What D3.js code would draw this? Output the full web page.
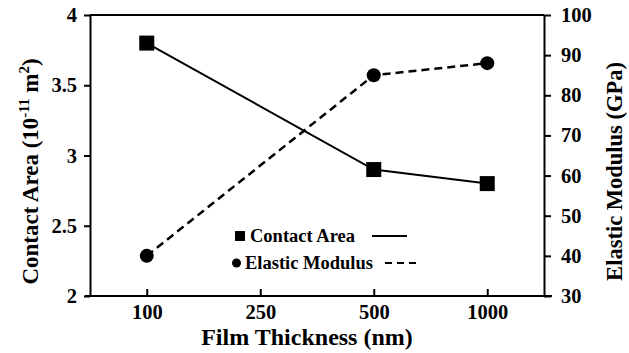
<!DOCTYPE html>
<html>
<head>
<meta charset="utf-8">
<script src="https://cdn.jsdelivr.net/npm/d3@7"></script>
<style>
  body { margin: 0; background: #fff; }
</style>
</head>
<body>
<div id="chart"></div>
<script>
// data
var thickness = ["100", "250", "500", "1000"];
var areaX = ["100", "500", "1000"];
var contactArea = [3.8, 2.9, 2.8];
var modulusX = ["100", "500", "1000"];
var elasticModulus = [40, 85, 88];
var leftTicks = [2, 2.5, 3, 3.5, 4];
var rightTicks = [30, 40, 50, 60, 70, 80, 90, 100];

var FONT = "'Liberation Serif', 'Times New Roman', Times, 'DejaVu Serif', serif";

var W = 629, H = 353;
var margin = { top: 15, right: 85, bottom: 57, left: 90 },
  width = W - margin.left - margin.right,
  height = H - margin.top - margin.bottom;

var svg = d3.select("#chart")
  .append("svg")
  .attr("width", W)
  .attr("height", H)
  .attr("font-family", FONT)
  .attr("font-weight", "bold")
  .append("g")
  .attr("transform", "translate(" + margin.left + "," + margin.top + ")");

var x = d3.scalePoint().domain(thickness).range([0, width]).padding(0.5);
var yL = d3.scaleLinear().domain([2, 4]).range([height, 0]);
var yR = d3.scaleLinear().domain([30, 100]).range([height, 0]);

// top frame line
svg.append("line")
  .attr("x1", 0).attr("x2", width)
  .attr("y1", 0).attr("y2", 0)
  .attr("stroke", "#000").attr("stroke-width", 2);

function styleAxis(g) {
  g.attr("font-family", FONT).attr("font-weight", "bold").attr("font-size", 20.5);
  g.select(".domain").attr("stroke-width", 2);
  g.selectAll(".tick line").attr("stroke-width", 2);
  g.selectAll(".tick text").attr("fill", "#000");
}

// x axis, ticks point inward
svg.append("g")
  .attr("transform", "translate(0," + height + ")")
  .call(d3.axisBottom(x).tickSize(-7).tickSizeOuter(0).tickPadding(8))
  .call(styleAxis)
  .call(function (g) {
    g.select(".domain").attr("d", "M-5,0H" + (width + 8));
  });

svg.append("g")
  .call(d3.axisLeft(yL).tickValues(leftTicks).tickFormat(d3.format("")).tickSize(6).tickSizeOuter(0).tickPadding(7))
  .call(styleAxis);

svg.append("g")
  .attr("transform", "translate(" + width + ",0)")
  .call(d3.axisRight(yR).tickValues(rightTicks).tickSize(7).tickSizeOuter(0).tickPadding(10))
  .call(styleAxis);

// contact area line + squares
var areaData = areaX.map(function (d, i) { return { x: d, v: contactArea[i] }; });
svg.append("path")
  .datum(areaData)
  .attr("fill", "none")
  .attr("stroke", "#000")
  .attr("stroke-width", 2)
  .attr("d", d3.line()
    .x(function (d) { return x(d.x); })
    .y(function (d) { return yL(d.v); }));
svg.selectAll(".sq")
  .data(areaData)
  .enter().append("rect")
  .attr("x", function (d) { return x(d.x) - 7.5; })
  .attr("y", function (d) { return yL(d.v) - 7.5; })
  .attr("width", 15).attr("height", 15)
  .attr("fill", "#000");

// elastic modulus dashed line + circles
var modData = modulusX.map(function (d, i) { return { x: d, v: elasticModulus[i] }; });
svg.append("path")
  .datum(modData)
  .attr("fill", "none")
  .attr("stroke", "#000")
  .attr("stroke-width", 2.5)
  .attr("stroke-dasharray", "8,5")
  .attr("d", d3.line()
    .x(function (d) { return x(d.x); })
    .y(function (d) { return yR(d.v); }));
svg.selectAll(".dot")
  .data(modData)
  .enter().append("circle")
  .attr("cx", function (d) { return x(d.x); })
  .attr("cy", function (d) { return yR(d.v); })
  .attr("r", 7)
  .attr("fill", "#000");

// legend
var lg = svg.append("g").attr("transform", "translate(145,221)");
lg.append("rect").attr("x", 0).attr("y", -5).attr("width", 10).attr("height", 10).attr("fill", "#000");
lg.append("text").attr("x", 15).attr("y", 6).attr("font-size", 18.5).text("Contact Area");
lg.append("line").attr("x1", 137).attr("x2", 172).attr("y1", 0).attr("y2", 0)
  .attr("stroke", "#000").attr("stroke-width", 2);
lg.append("circle").attr("cx", 1.5).attr("cy", 27).attr("r", 4.5).attr("fill", "#000");
lg.append("text").attr("x", 10).attr("y", 33).attr("font-size", 18.5).text("Elastic Modulus");
lg.append("line").attr("x1", 150).attr("x2", 183).attr("y1", 27).attr("y2", 27)
  .attr("stroke", "#000").attr("stroke-width", 2).attr("stroke-dasharray", "7,5");

// axis titles
svg.append("text")
  .attr("x", width / 2 - 10)
  .attr("y", height + 49)
  .attr("text-anchor", "middle")
  .attr("font-size", 24)
  .text("Film Thickness (nm)");

var lt = svg.append("text")
  .attr("transform", "translate(" + (-52) + "," + (height / 2 + 16) + ") rotate(-90)")
  .attr("text-anchor", "middle")
  .attr("font-size", 23);
lt.append("tspan").text("Contact Area (10");
lt.append("tspan").attr("dy", -9).attr("font-size", 15).text("-11");
lt.append("tspan").attr("dy", 9).text(" m");
lt.append("tspan").attr("dy", -9).attr("font-size", 15).text("2");
lt.append("tspan").attr("dy", 9).text(")");

svg.append("text")
  .attr("transform", "translate(" + (width + 78) + "," + (height / 2 + 16) + ") rotate(-90)")
  .attr("text-anchor", "middle")
  .attr("font-size", 22.5)
  .text("Elastic Modulus (GPa)");
</script>
</body>
</html>
